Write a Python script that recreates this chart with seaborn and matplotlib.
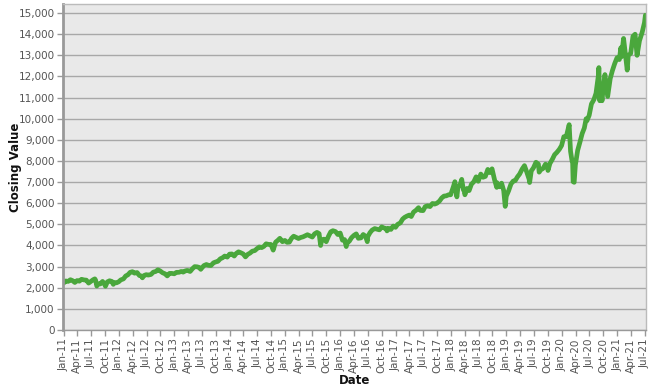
import matplotlib
matplotlib.use("Agg")
import matplotlib.pyplot as plt
import matplotlib.dates as mdates
from matplotlib.ticker import FuncFormatter
import seaborn as sns
import pandas as pd

dates_2011 = ["2011-01-03", "2011-01-14", "2011-01-31", "2011-02-15", "2011-02-28", "2011-03-16", "2011-03-31",
              "2011-04-15", "2011-04-29", "2011-05-16", "2011-05-31", "2011-06-15", "2011-06-30", "2011-07-15",
              "2011-07-26", "2011-07-31", "2011-08-08", "2011-08-15", "2011-08-31", "2011-09-15", "2011-09-30",
              "2011-10-04", "2011-10-17", "2011-10-31", "2011-11-15", "2011-11-25", "2011-11-30", "2011-12-15",
              "2011-12-30"]
close_2011 = [2230, 2320, 2300, 2380, 2340, 2250, 2340, 2310, 2400, 2370, 2360, 2220, 2300, 2380, 2420, 2360,
              2080, 2180, 2180, 2300, 2140, 2070, 2280, 2330, 2300, 2160, 2250, 2230, 2280]

dates_2012 = ["2012-01-13", "2012-01-31", "2012-02-15", "2012-02-29", "2012-03-15", "2012-03-30", "2012-04-13",
              "2012-04-30", "2012-05-15", "2012-05-31", "2012-06-04", "2012-06-15", "2012-06-29", "2012-07-13",
              "2012-07-31", "2012-08-15", "2012-08-31", "2012-09-14", "2012-09-28", "2012-10-15", "2012-10-31",
              "2012-11-15", "2012-11-30", "2012-12-14", "2012-12-31"]
close_2012 = [2370, 2420, 2560, 2610, 2730, 2760, 2690, 2720, 2580, 2550, 2470, 2580, 2620, 2600, 2630, 2740,
              2770, 2850, 2800, 2710, 2660, 2560, 2680, 2680, 2660]

dates_2013 = ["2013-01-15", "2013-01-31", "2013-02-15", "2013-02-28", "2013-03-15", "2013-03-28", "2013-04-15",
              "2013-04-30", "2013-05-15", "2013-05-31", "2013-06-14", "2013-06-24", "2013-06-28", "2013-07-15",
              "2013-07-31", "2013-08-15", "2013-08-30", "2013-09-16", "2013-09-30", "2013-10-15", "2013-10-31",
              "2013-11-15", "2013-11-29", "2013-12-16", "2013-12-31"]
close_2013 = [2730, 2730, 2770, 2740, 2800, 2820, 2770, 2900, 3000, 2990, 2960, 2870, 2910, 3050, 3100, 3060,
              3050, 3180, 3220, 3250, 3370, 3420, 3500, 3450, 3590]

dates_2014 = ["2014-01-15", "2014-01-31", "2014-02-14", "2014-02-28", "2014-03-14", "2014-03-31", "2014-04-15",
              "2014-04-30", "2014-05-15", "2014-05-30", "2014-06-16", "2014-06-30", "2014-07-15", "2014-07-31",
              "2014-08-15", "2014-08-29", "2014-09-15", "2014-09-30", "2014-10-15", "2014-10-31", "2014-11-14",
              "2014-11-28", "2014-12-15", "2014-12-31"]
close_2014 = [3600, 3500, 3630, 3700, 3660, 3600, 3460, 3580, 3640, 3730, 3760, 3850, 3930, 3900, 3960, 4080,
              4050, 4050, 3780, 4160, 4240, 4340, 4180, 4240]

dates_2015 = ["2015-01-15", "2015-01-30", "2015-02-13", "2015-02-27", "2015-03-16", "2015-03-31", "2015-04-15",
              "2015-04-30", "2015-05-15", "2015-05-29", "2015-06-15", "2015-06-30", "2015-07-15", "2015-07-31",
              "2015-08-14", "2015-08-24", "2015-08-31", "2015-09-15", "2015-09-30", "2015-10-15", "2015-10-30",
              "2015-11-13", "2015-11-30", "2015-12-15", "2015-12-31"]
close_2015 = [4150, 4160, 4340, 4440, 4380, 4330, 4380, 4410, 4460, 4510, 4450, 4400, 4550, 4620, 4560, 4000,
              4270, 4300, 4180, 4440, 4650, 4700, 4660, 4520, 4590]

dates_2016 = ["2016-01-15", "2016-01-29", "2016-02-09", "2016-02-16", "2016-02-29", "2016-03-15", "2016-03-31",
              "2016-04-15", "2016-04-29", "2016-05-16", "2016-05-31", "2016-06-15", "2016-06-27", "2016-06-30",
              "2016-07-15", "2016-07-29", "2016-08-15", "2016-08-31", "2016-09-15", "2016-09-30", "2016-10-14",
              "2016-10-31", "2016-11-04", "2016-11-15", "2016-11-30", "2016-12-15", "2016-12-30"]
close_2016 = [4250, 4280, 3950, 4140, 4200, 4370, 4480, 4550, 4340, 4360, 4520, 4440, 4180, 4420, 4610, 4730,
              4800, 4770, 4740, 4880, 4830, 4800, 4690, 4810, 4760, 4920, 4860]

dates_2017 = ["2017-01-13", "2017-01-31", "2017-02-15", "2017-02-28", "2017-03-15", "2017-03-31", "2017-04-13",
              "2017-04-28", "2017-05-15", "2017-05-31", "2017-06-12", "2017-06-30", "2017-07-14", "2017-07-31",
              "2017-08-15", "2017-08-31", "2017-09-15", "2017-09-29", "2017-10-16", "2017-10-31", "2017-11-15",
              "2017-11-30", "2017-12-15", "2017-12-29"]
close_2017 = [5000, 5070, 5250, 5330, 5390, 5440, 5370, 5580, 5670, 5790, 5660, 5650, 5840, 5880, 5840, 5990,
              5960, 6000, 6100, 6250, 6340, 6350, 6400, 6400]

dates_2018 = ["2018-01-16", "2018-01-26", "2018-02-08", "2018-02-15", "2018-02-28", "2018-03-12", "2018-03-23",
              "2018-03-29", "2018-04-02", "2018-04-16", "2018-04-30", "2018-05-15", "2018-05-31", "2018-06-15",
              "2018-06-29", "2018-07-16", "2018-07-31", "2018-08-15", "2018-08-31", "2018-09-14", "2018-09-28",
              "2018-10-15", "2018-10-29", "2018-10-31", "2018-11-15", "2018-11-30", "2018-12-14", "2018-12-24",
              "2018-12-31"]
close_2018 = [6780, 7020, 6300, 6750, 6850, 7130, 6630, 6580, 6400, 6700, 6600, 6900, 7020, 7250, 7040, 7380,
              7230, 7270, 7600, 7450, 7630, 7100, 6750, 6970, 6780, 6950, 6600, 5850, 6330]

dates_2019 = ["2019-01-15", "2019-01-31", "2019-02-15", "2019-02-28", "2019-03-15", "2019-03-29", "2019-04-15",
              "2019-04-30", "2019-05-15", "2019-05-31", "2019-06-03", "2019-06-14", "2019-06-28", "2019-07-15",
              "2019-07-31", "2019-08-05", "2019-08-15", "2019-08-30", "2019-09-16", "2019-09-30", "2019-10-02",
              "2019-10-15", "2019-10-31", "2019-11-15", "2019-11-29", "2019-12-16", "2019-12-31"]
close_2019 = [6580, 6910, 7050, 7070, 7250, 7380, 7620, 7780, 7480, 7130, 6980, 7530, 7670, 7940, 7850, 7470,
              7580, 7640, 7850, 7750, 7550, 7880, 8080, 8300, 8400, 8550, 8730]

dates_2020 = ["2020-01-15", "2020-01-31", "2020-02-19", "2020-02-28", "2020-03-09", "2020-03-13", "2020-03-16",
              "2020-03-23", "2020-03-31", "2020-04-15", "2020-04-30", "2020-05-15", "2020-05-29", "2020-06-10",
              "2020-06-15", "2020-06-30", "2020-07-15", "2020-07-31", "2020-08-14", "2020-08-31", "2020-09-02",
              "2020-09-08", "2020-09-15", "2020-09-23", "2020-09-30", "2020-10-12", "2020-10-15", "2020-10-30",
              "2020-11-16", "2020-11-30", "2020-12-15", "2020-12-31"]
close_2020 = [9150, 9150, 9720, 8460, 8000, 7900, 7020, 6990, 7810, 8500, 8890, 9300, 9560, 10000, 9900, 10160,
              10700, 10900, 11200, 12110, 12420, 10850, 11400, 10850, 11420, 12090, 11900, 11050, 11900, 12270,
              12600, 12890]

dates_2021 = ["2021-01-15", "2021-01-25", "2021-01-29", "2021-02-12", "2021-02-26", "2021-03-08", "2021-03-15",
              "2021-03-31", "2021-04-15", "2021-04-29", "2021-05-12", "2021-05-28", "2021-06-15", "2021-06-30",
              "2021-07-06"]
close_2021 = [12800, 13360, 12930, 13800, 12900, 12300, 13000, 13090, 13900, 14000, 13000, 13690, 14100, 14550,
              14900]

all_dates = (dates_2011 + dates_2012 + dates_2013 + dates_2014 + dates_2015 + dates_2016 + dates_2017
             + dates_2018 + dates_2019 + dates_2020 + dates_2021)
all_close = (close_2011 + close_2012 + close_2013 + close_2014 + close_2015 + close_2016 + close_2017
             + close_2018 + close_2019 + close_2020 + close_2021)
df = pd.DataFrame({"Date": pd.to_datetime(all_dates), "Closing Value": all_close})

sns.set_theme(style="white")
plt.rcParams["font.family"] = ["DejaVu Sans"]

fig = plt.figure(figsize=(6.5, 3.9), dpi=100)
ax = fig.add_axes([63 / 650, 60 / 390, 583 / 650, 326 / 390])
ax.set_facecolor("#e9e9e9")

sns.lineplot(data=df, x="Date", y="Closing Value", ax=ax, color="#4aa73c", linewidth=3.4)

ax.set_ylim(0, 15430)
ax.set_yticks(range(0, 15001, 1000))
ax.yaxis.set_major_formatter(FuncFormatter(lambda v, p: f"{int(v):,}"))
ax.grid(axis="y", color="#a8a8a8", linewidth=1.0)
ax.set_axisbelow(True)

ax.set_xlim(pd.Timestamp("2010-12-28"), pd.Timestamp("2021-07-10"))
ax.xaxis.set_major_locator(mdates.MonthLocator(bymonth=[1, 4, 7, 10]))
ax.xaxis.set_major_formatter(mdates.DateFormatter("%b-%y"))
plt.setp(ax.get_xticklabels(), rotation=90)

ax.tick_params(axis="both", which="major", labelsize=7.5, labelcolor="#555555", color="#999999",
               length=4, width=1, bottom=True, left=True, pad=2)
for s in ax.spines.values():
    s.set_color("#bbbbbb")
    s.set_linewidth(1)
ax.spines["left"].set_color("#999999")
ax.spines["left"].set_linewidth(2)
ax.spines["bottom"].set_color("#999999")

ax.set_xlabel("Date", fontsize=8.5, fontweight="bold", color="#111111")
ax.set_ylabel("Closing Value", fontsize=8.5, fontweight="bold", color="#111111")
ax.xaxis.set_label_coords(0.5, -0.134)
ax.yaxis.set_label_coords(-0.071, 0.5)

fig.savefig("out.png", dpi=100)
